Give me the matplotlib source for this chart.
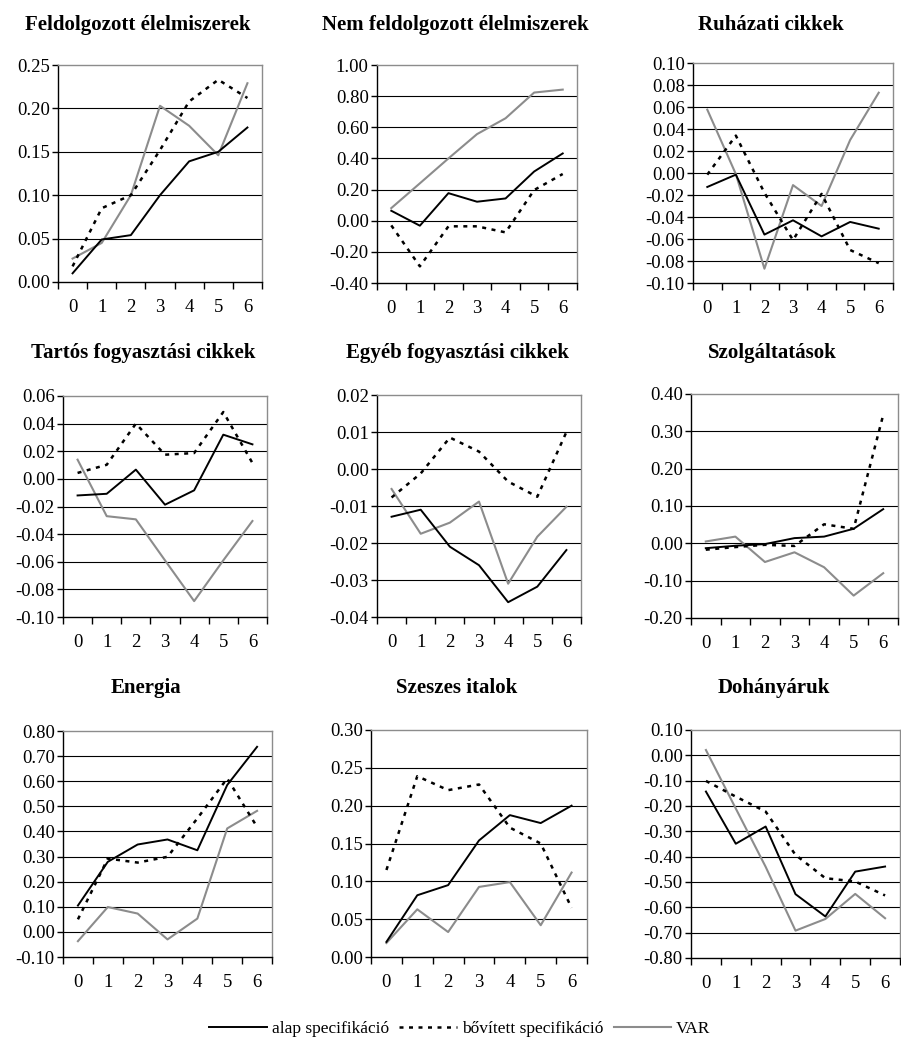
import matplotlib
matplotlib.use("Agg")
import matplotlib.pyplot as plt
from matplotlib.lines import Line2D

plt.rcParams['font.family'] = ['Liberation Serif', 'DejaVu Serif']

W, H = 901, 1041

lags = ["0", "1", "2", "3", "4", "5", "6"]
titles = ["Feldolgozott élelmiszerek", "Nem feldolgozott élelmiszerek", "Ruházati cikkek",
          "Tartós fogyasztási cikkek", "Egyéb fogyasztási cikkek", "Szolgáltatások",
          "Energia", "Szeszes italok", "Dohányáruk"]
series_names = ["alap specifikáció", "bővített specifikáció", "VAR"]

alap = [
    [0.010, 0.049, 0.054, 0.100, 0.139, 0.150, 0.178],
    [0.064, -0.032, 0.177, 0.122, 0.143, 0.316, 0.432],
    [-0.0127, -0.0015, -0.056, -0.043, -0.0576, -0.0445, -0.0506],
    [-0.012, -0.0108, 0.0067, -0.0187, -0.0083, 0.032, 0.025],
    [-0.0129, -0.011, -0.021, -0.026, -0.036, -0.0318, -0.0219],
    [-0.013, -0.0065, -0.002, 0.014, 0.018, 0.039, 0.0916],
    [0.105, 0.279, 0.348, 0.368, 0.325, 0.585, 0.737],
    [0.020, 0.0816, 0.095, 0.154, 0.1875, 0.177, 0.200],
    [-0.143, -0.349, -0.281, -0.548, -0.636, -0.459, -0.439],
]
bovitett = [
    [0.018, 0.085, 0.100, 0.152, 0.208, 0.233, 0.212],
    [-0.030, -0.293, -0.036, -0.036, -0.075, 0.197, 0.300],
    [-0.0015, 0.034, -0.018, -0.061, -0.019, -0.070, -0.082],
    [0.0043, 0.0102, 0.040, 0.0175, 0.0187, 0.0484, 0.0115],
    [-0.0077, -0.0012, 0.0085, 0.0047, -0.0034, -0.0075, 0.010],
    [-0.017, -0.010, -0.004, -0.007, 0.051, 0.039, 0.344],
    [0.050, 0.292, 0.276, 0.299, 0.452, 0.611, 0.418],
    [0.115, 0.239, 0.2205, 0.228, 0.171, 0.150, 0.065],
    [-0.101, -0.163, -0.222, -0.393, -0.485, -0.498, -0.553],
]
var = [
    [0.027, 0.045, 0.100, 0.203, 0.180, 0.146, 0.229],
    [0.081, 0.240, 0.400, 0.556, 0.658, 0.823, 0.842],
    [0.0576, -0.001, -0.087, -0.011, -0.030, 0.030, 0.073],
    [0.0139, -0.027, -0.0293, -0.059, -0.0885, -0.059, -0.0305],
    [-0.0054, -0.0175, -0.0145, -0.0088, -0.031, -0.0183, -0.0102],
    [0.005, 0.018, -0.050, -0.024, -0.064, -0.140, -0.080],
    [-0.037, 0.099, 0.073, -0.030, 0.053, 0.412, 0.482],
    [0.0185, 0.063, 0.033, 0.0926, 0.099, 0.042, 0.1116],
    [0.021, -0.21, -0.44, -0.692, -0.646, -0.547, -0.643],
]
ylims = [(0.0, 0.25, 0.05), (-0.4, 1.0, 0.2), (-0.10, 0.10, 0.02),
         (-0.10, 0.06, 0.02), (-0.04, 0.02, 0.01), (-0.20, 0.40, 0.10),
         (-0.10, 0.80, 0.10), (0.0, 0.30, 0.05), (-0.80, 0.10, 0.10)]

# axes boxes in pixels: left, right, top, bottom
boxes = [(58, 262, 65, 282), (377, 577, 65, 283), (693, 893, 63, 283),
         (63, 267, 396, 617), (377, 581, 395, 617), (691, 898, 394, 618),
         (63, 272, 731, 957), (371, 587, 730, 957), (691, 900, 730, 958)]
title_y = [25, 25, 25, 353, 353, 353, 688, 688, 688]

fig = plt.figure(figsize=(W / 100, H / 100), dpi=100)

GRAY = '#8c8c8c'
DASH = (0, (1.6, 2.2))
for i in range(9):
    l, r, t, b = boxes[i]
    ax = fig.add_axes([l / W, 1 - b / H, (r - l) / W, (b - t) / H])
    xs = [k + 0.5 for k in range(len(lags))]
    ax.plot(xs, var[i], color=GRAY, lw=1.5, zorder=3)
    ax.plot(xs, bovitett[i], color='black', lw=1.8, ls=DASH, zorder=4)
    ax.plot(xs, alap[i], color='black', lw=1.4, zorder=5)
    lo, hi, st = ylims[i]
    n = int(round((hi - lo) / st))
    ticks = [lo + k * st for k in range(n + 1)]
    ax.set_ylim(lo, hi)
    ax.set_yticks(ticks)
    ax.set_yticklabels([("%.2f" % v).replace("-0.00", "0.00") for v in ticks], fontsize=13.5)
    for v in ticks[1:-1]:
        ax.axhline(v, color='black', lw=0.8, zorder=1)
    ax.set_xlim(0, 7)
    ax.set_xticks(range(8))
    ax.set_xticklabels([])
    ax.set_xticks(xs, minor=True)
    ax.set_xticklabels(lags, minor=True, fontsize=13.5)
    ax.tick_params(axis='x', which='minor', length=0, pad=12)
    ax.tick_params(axis='x', which='major', length=5, direction='out', width=1)
    ax.tick_params(axis='y', length=4, direction='out', width=1, pad=2)
    ax.spines['left'].set_color('black')
    ax.spines['bottom'].set_color('black')
    ax.spines['top'].set_color(GRAY)
    ax.spines['right'].set_color(GRAY)
    for s in ax.spines.values():
        s.set_linewidth(1.0)
    fig.text(((l + r) / 2 - 22) / W, 1 - title_y[i] / H, titles[i], ha='center', va='center',
             fontsize=15, fontweight='bold')

handles = [Line2D([], [], color='black', lw=1.4),
           Line2D([], [], color='black', lw=1.8, ls=DASH),
           Line2D([], [], color=GRAY, lw=1.5)]
fig.legend(handles, series_names, loc='center', bbox_to_anchor=(460 / W, 1 - 1029 / H), ncol=3,
           frameon=False, fontsize=12.5, handlelength=3.3, handletextpad=0.3, columnspacing=0.6)

fig.savefig('out.png', dpi=100)
